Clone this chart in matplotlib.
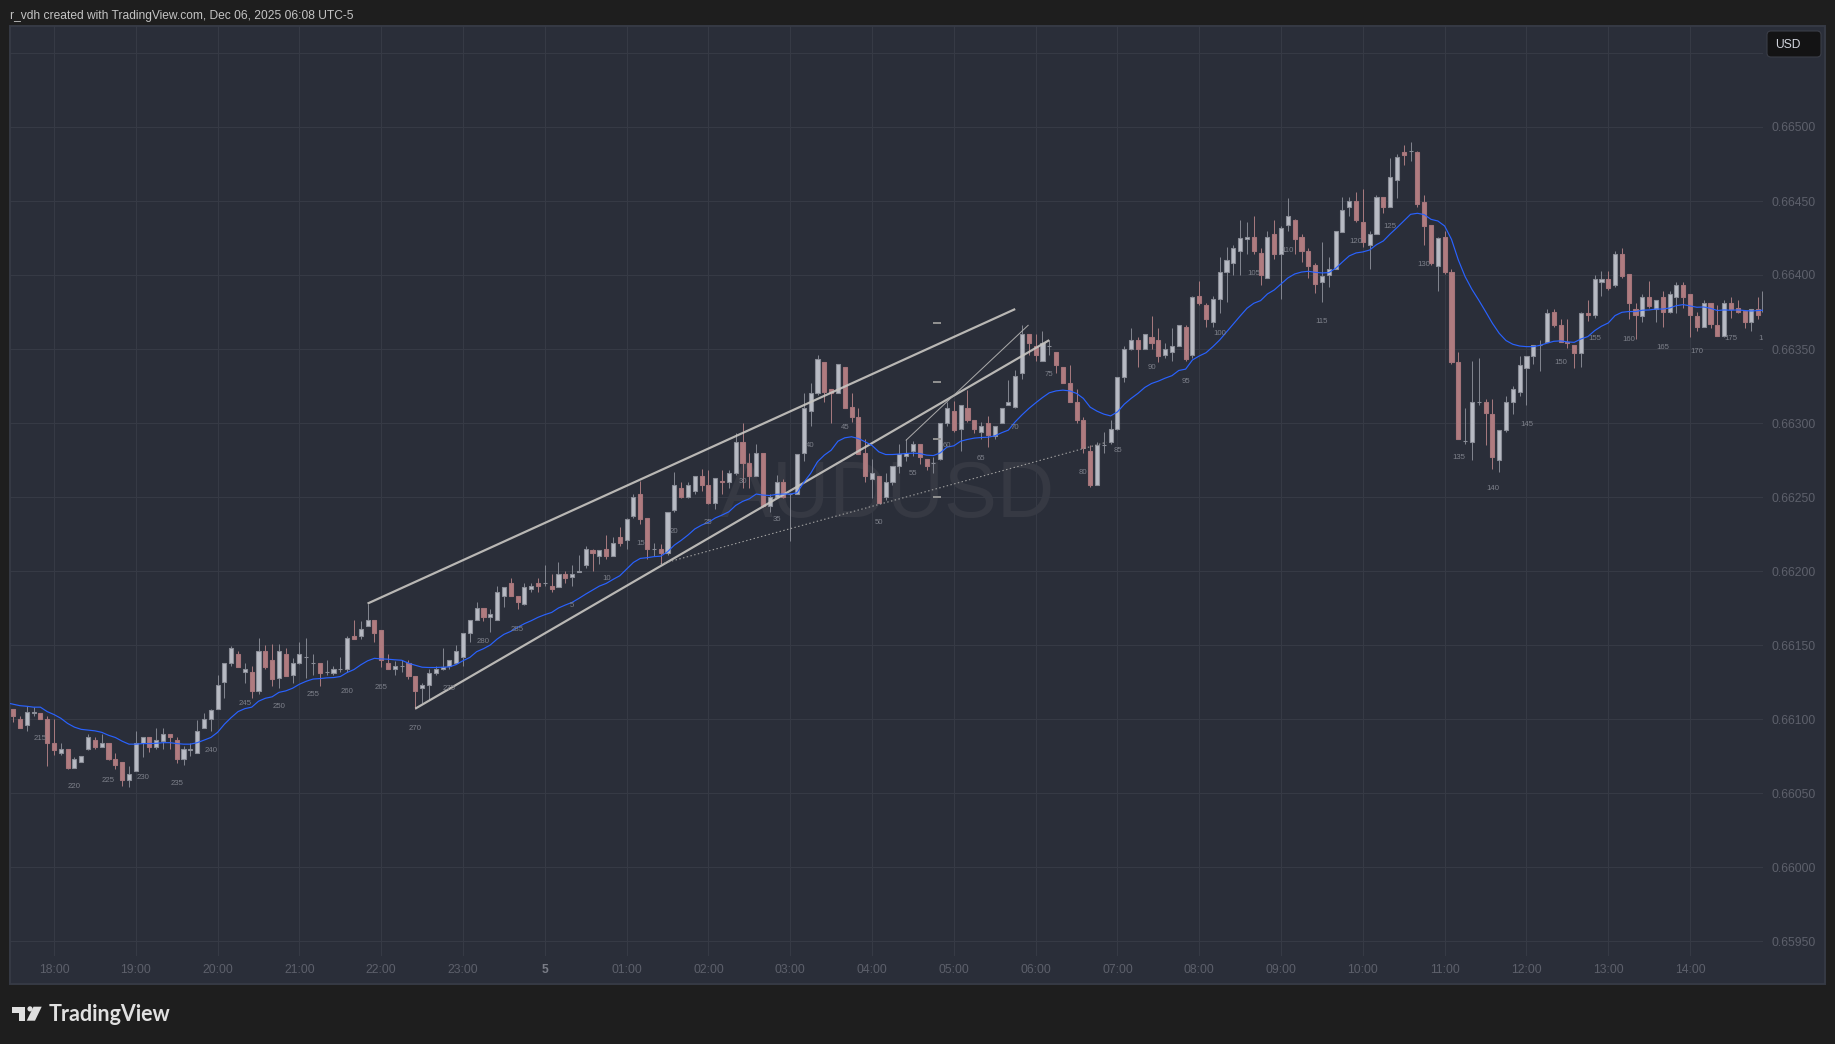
import numpy as np
import matplotlib
matplotlib.use("Agg")
import matplotlib.pyplot as plt
from matplotlib.patches import Rectangle, FancyBboxPatch, Polygon, Circle

plt.rcParams['font.family'] = ['Liberation Sans', 'DejaVu Sans']

# ---------- data (prices in 1e-5 units, five-minute bars, bar 0 = 18:00) ----------
first_bar = -6
opens = [
66107,66100,66096,66104,66104,66100,66084,66077,66080,66067,
66071,66080,66086,66081,66084,66073,66071,66059,66065,66084,
66088,66081,66085,66090,66086,66073,66079,66077,66094,66100,
66107,66125,66138,66144,66132,66132,66119,66146,66140,66128,
66144,66130,66138,66142,66138,66138,66132,66131,66134,66134,
66156,66156,66163,66167,66160,66138,66134,66136,66138,66129,
66121,66123,66131,66134,66136,66138,66142,66158,66167,66175,
66169,66167,66183,66192,66183,66178,66188,66192,66192,66190,
66189,66198,66196,66199,66204,66214,66210,66215,66210,66223,
66221,66237,66252,66236,66215,66215,66212,66241,66256,66250,
66254,66264,66258,66246,66261,66260,66266,66287,66273,66264,
66280,66244,66250,66260,66252,66252,66280,66308,66320,66341,
66323,66320,66338,66311,66304,66280,66262,66264,66250,66260,
66271,66278,66281,66286,66276,66273,66276,66300,66308,66296,
66310,66302,66294,66300,66291,66300,66312,66311,66334,66360,
66352,66342,66352,66348,66338,66327,66314,66302,66281,66258,
66285,66287,66296,66331,66350,66356,66350,66358,66356,66346,
66348,66352,66365,66346,66386,66380,66368,66384,66402,66408,
66416,66424,66426,66415,66398,66428,66414,66434,66437,66426,
66416,66407,66395,66400,66404,66429,66446,66450,66436,66420,
66428,66453,66446,66464,66483,66484,66483,66449,66434,66406,
66426,66402,66341,66288,66287,66314,66314,66306,66275,66295,
66314,66321,66337,66345,66353,66355,66375,66366,66355,66353,
66347,66374,66373,66395,66397,66393,66414,66401,66377,66372,
66385,66377,66385,66375,66385,66393,66387,66372,66365,66381,
66366,66359,66381,66378,66376,66368,66377]
closes = [
66102,66094,66105,66105,66100,66084,66079,66080,66067,66073,
66075,66088,66081,66084,66073,66069,66059,66063,66084,66088,
66081,66086,66090,66088,66073,66080,66080,66092,66100,66106,
66123,66138,66148,66135,66134,66119,66146,66135,66127,66146,
66129,66138,66144,66142,66138,66131,66132,66134,66134,66155,
66154,66161,66167,66158,66140,66134,66136,66136,66129,66119,
66123,66131,66134,66135,66140,66146,66158,66167,66175,66169,
66171,66186,66189,66183,66179,66189,66190,66190,66192,66188,
66198,66195,66198,66200,66215,66212,66214,66210,66219,66219,
66235,66250,66235,66215,66215,66212,66240,66258,66250,66258,
66264,66258,66246,66263,66260,66266,66287,66273,66264,66280,
66244,66250,66260,66250,66252,66279,66310,66320,66343,66321,
66320,66340,66310,66304,66279,66264,66266,66246,66260,66271,
66279,66280,66286,66277,66271,66273,66300,66310,66295,66312,
66302,66296,66298,66292,66298,66310,66314,66332,66360,66354,
66346,66354,66352,66339,66327,66314,66302,66283,66258,66285,
66285,66296,66331,66350,66356,66350,66360,66354,66345,66350,
66352,66366,66343,66385,66381,66370,66384,66402,66410,66418,
66425,66426,66416,66400,66426,66414,66432,66440,66424,66416,
66406,66394,66399,66404,66430,66444,66450,66437,66422,66428,
66453,66446,66466,66480,66481,66484,66448,66433,66408,66425,
66402,66341,66289,66288,66314,66314,66307,66277,66295,66314,
66323,66339,66345,66353,66353,66374,66366,66355,66354,66347,
66374,66373,66397,66397,66391,66414,66399,66381,66373,66385,
66379,66383,66375,66387,66393,66385,66373,66365,66381,66367,
66359,66381,66377,66375,66368,66377,66373]
highs = [
66107,66102,66109,66108,66104,66102,66100,66084,66080,66074,
66075,66090,66088,66090,66084,66077,66071,66068,66092,66088,
66088,66094,66094,66090,66088,66082,66084,66099,66104,66107,
66130,66138,66149,66146,66138,66136,66155,66150,66151,66151,
66148,66141,66152,66155,66144,66138,66140,66136,66142,66156,
66167,66166,66178,66167,66160,66144,66139,66140,66140,66129,
66124,66134,66136,66148,66140,66150,66158,66167,66179,66175,
66174,66190,66189,66195,66183,66192,66192,66195,66204,66198,
66206,66200,66204,66211,66217,66215,66214,66224,66223,66230,
66236,66252,66261,66236,66219,66218,66240,66267,66260,66260,
66264,66269,66268,66263,66268,66268,66293,66300,66280,66286,
66280,66252,66265,66262,66253,66279,66320,66327,66346,66341,
66323,66340,66338,66320,66310,66289,66276,66264,66266,66271,
66286,66289,66288,66286,66276,66277,66300,66314,66315,66312,
66322,66302,66301,66305,66298,66310,66329,66336,66366,66360,
66360,66362,66356,66348,66338,66339,66323,66304,66285,66287,
66294,66302,66331,66352,66364,66358,66360,66372,66364,66354,
66364,66366,66366,66386,66396,66381,66386,66412,66419,66420,
66437,66436,66440,66418,66430,66437,66433,66452,66438,66428,
66418,66408,66422,66412,66430,66453,66453,66456,66458,66430,
66454,66453,66479,66482,66488,66490,66484,66454,66434,66426,
66430,66404,66348,66310,66342,66344,66316,66316,66295,66318,
66325,66345,66345,66353,66356,66377,66377,66370,66370,66353,
66375,66383,66400,66403,66403,66416,66418,66401,66381,66387,
66396,66383,66389,66389,66395,66395,66387,66375,66383,66381,
66380,66383,66385,66383,66376,66377,66385]
lows = [
66098,66094,66092,66102,66100,66068,66076,66076,66066,66067,
66071,66079,66080,66081,66072,66066,66055,66054,66065,66074,
66078,66080,66080,66080,66070,66069,66075,66077,66094,66092,
66107,66114,66136,66135,66124,66114,66117,66134,66122,66121,
66129,66124,66137,66128,66130,66122,66130,66130,66132,66132,
66154,66154,66163,66152,66135,66134,66130,66132,66127,66107,
66111,66113,66130,66133,66134,66137,66136,66152,66167,66166,
66159,66167,66176,66183,66174,66177,66186,66186,66190,66186,
66189,66192,66190,66199,66202,66200,66205,66208,66210,66217,
66215,66236,66232,66208,66210,66205,66211,66240,66249,66249,
66252,66254,66245,66242,66252,66256,66265,66256,66256,66264,
66243,66240,66249,66249,66220,66252,66274,66298,66319,66314,
66300,66320,66310,66301,66279,66260,66249,66246,66248,66258,
66266,66274,66278,66272,66268,66266,66275,66298,66294,66281,
66301,66293,66289,66284,66289,66300,66312,66310,66330,66346,
66342,66342,66346,66334,66327,66314,66300,66280,66257,66258,
66280,66286,66295,66328,66349,66338,66350,66350,66341,66344,
66342,66352,66342,66344,66380,66365,66365,66374,66382,66400,
66400,66414,66414,66393,66398,66411,66384,66430,66414,66409,
66398,66388,66382,66392,66404,66429,66440,66436,66419,66404,
66428,66442,66446,66452,66474,66477,66446,66420,66407,66389,
66401,66340,66289,66286,66275,66312,66285,66269,66267,66294,
66306,66318,66312,66340,66335,66355,66365,66355,66351,66337,
66338,66369,66371,66386,66390,66392,66398,66370,66357,66368,
66378,66368,66365,66374,66374,66378,66358,66362,66365,66364,
66359,66358,66371,66374,66364,66362,66370]

# last partially visible bar at the right edge (only its wick shows)
edge_bar = 250.6
edge_high = 66389
edge_low = 66375

# moving average, starts one bar before the first candle
ma_first = -7
ma_values = [
66111,66110,66109,66108.6,66108,66108,66105,66103,66100.5,66097,66094.5,66093,66092.5,66092,66091,66089,
66087.5,66085,66083,66083,66083.4,66083.4,66083.6,66084,66084,66083.4,66083,66083,66084,66085.7,66087.5,
66091,66096.5,66101,66105,66107,66108,66112,66114,66115,66118,66119,66120.8,66123.5,66125.5,66127,66127.3,
66127.8,66128,66128.7,66131.4,66133.4,66136.6,66139.3,66141,66140.6,66140.4,66140,66139.7,66137.7,66136.3,
66135,66134.8,66134.8,66135,66135.2,66136.8,
66139.4,66141.6,66145.5,66147.5,66150,66154,66157.2,66159.2,66161.9,66164.4,66166.4,66168.7,66170.5,66172,
66175,66177,66178.8,66181.5,66184.4,66187.1,66189.8,66191.6,66194.3,66196.8,66201.3,66205.8,66208.5,66209,
66209.7,66210,66213,66217.5,66220.7,66224.3,66228.4,66231,66232.9,66235.8,66237.8,66240,66244.3,66247,
66248.8,66252,66251.3,66251,66251.8,66252,66252,66252.9,66259.9,66266,66273.8,
66278.3,66281.6,66287.7,66290,66290.7,66289.5,66287.3,66284.8,66280.5,66278.7,66278.7,66279,66279.4,66279.6,
66279.4,66278.3,66278,66279.8,66283.7,66284.6,66287.7,66288.9,66289.8,66290.2,66290.4,66291.3,66293.4,66295.2,
66300.8,66305.5,66309.8,66313.6,66317.2,66320.4,66321.7,66322.2,66321.7,66320,66316.6,66310.7,66308,66306,
66304.8,66307.5,66312.7,66316.6,66320,66324,66326.7,66328.3,66330.3,66332,66335.5,66336.4,
66342.6,66345.3,66347.5,66351.6,66356.1,66361.5,66366.9,66372.3,66377.5,66380.9,66382.7,66387.2,66389.9,66394,
66398,66400.7,66402,66402.5,66401.8,66401.4,66401.6,66404.5,66408.8,66412.9,66414.9,66415.6,66416.9,66420.5,
66423,66427.7,66432,66436.5,66441,66441.7,66440.8,66437.6,66436.5,66433.1,66424.1,66410.2,66398.9,66390.3,
66383,66375.3,66367.4,66360.6,66355.7,66353.2,66352,66351.6,66351.6,66352.5,
66353.9,66355.2,66355.5,66354.8,66354.5,66356.8,66358.4,66362.4,66365.4,66367.6,66372.6,66374.8,66375.3,66375.3,
66376.2,66376.4,66377,66377,66377.7,66379.3,66380,66379.1,66378.2,66378.4,66377.5,66376,66376.4,66376.2,
66376.4,66376,66375.7,66376,66376.3]

# bar-count annotations
count_bars = [-2,3,8,13,18,23,28,33,38,43,48,53,58,63,68,76,81,86,91,96,101,106,111,116,121,126,131,136,141,146,
              151,156,161,166,171,176,181,186,191,196,201,206,211,216,221,226,231,236,241,246,251]
count_text = ['215','220','225','230','235','240','245','250','255','260','265','270','275','280','285','5','10','15','20','25','30','35','40','45','50',
              '55','60','65','70','75','80','85','90','95','100','105','110','115','120','125','130','135','140','145','150','155','160','165','170','175','180']
count_price = [66086.8,66054.4,66058.4,66060.4,66056.4,66078.7,66110.4,66108.4,66116.5,66118.5,66121.3,66093.5,66120.5,66152.2,66160.6,66176.6,
               66194.8,66218.4,66226.5,66232.6,66260.3,66234.7,66284.7,66297,66232.8,66265.7,66284.6,66275.8,66296.7,66332.5,66266.3,66281.2,
               66337.3,66327.8,66360.6,66401.2,66416.5,66368.7,66422.5,66432.7,66407,66276.4,66256,66299.1,66341,66357.3,66356.6,66351.2,66348.5,66357.3,66356.8]

# drawings: (bar, price) pairs
channel_upper = ([46, 141], [66178, 66377])
channel_lower = ([53, 146], [66107, 66356])
thin_trend = ([125, 142.9], [66288.4, 66366])
dotted_trend = ([89, 154.4], [66204.7, 66287])
level_dash_bars = [128.9, 130.1]
level_dash_prices = [66367.5, 66328, 66289, 66250]

price_ticks = [66550,66500,66450,66400,66350,66300,66250,66200,66150,66100,66050,66000,65950]
time_tick_bars = [0,12,24,36,48,60,72,84,96,108,120,132,144,156,168,180,192,204,216,228,240]
time_tick_labels = ['18:00','19:00','20:00','21:00','22:00','23:00','5','01:00','02:00','03:00','04:00','05:00',
                    '06:00','07:00','08:00','09:00','10:00','11:00','12:00','13:00','14:00']

# ---------- colours ----------
FIG_BG = '#1e1e1e'
PANEL = '#2a2e39'
GRID = '#363a45'
UP_FILL, UP_EDGE, UP_WICK = '#b8bbc4', '#8a8d97', '#80838d'
DN_FILL, DN_EDGE, DN_WICK = '#b07c80', '#a4747a', '#a4787d'
TXT_DIM = '#5d606b'
PX = 0.72

W, H = 1835, 1044
fig = plt.figure(figsize=(W/100, H/100), dpi=100, facecolor=FIG_BG)

# layer in pixel coordinates for the frame and furniture
bg = fig.add_axes([0, 0, 1, 1], zorder=0)
bg.set_xlim(0, W); bg.set_ylim(H, 0); bg.axis('off')
bg.add_patch(Rectangle((10, 26), 1815, 958, facecolor=PANEL, edgecolor='#363a45', lw=1.4))
bg.text(10, 15.5, 'r_vdh created with TradingView.com, Dec 06, 2025 06:08 UTC-5', color='#c4c4c4',
        fontsize=8.63, va='center', ha='left')
bg.text(720, 517, 'AUDUSD', color='#363943', fontsize=57.2, va='baseline', ha='left')
# logo
bg.add_patch(Polygon([(12,1006.7),(25.3,1006.7),(25.3,1020.7),(19.3,1020.7),(19.3,1012.7),(12,1012.7)], fc='#e0e0e0', ec='none'))
bg.add_patch(Circle((30, 1008.9), 2.6, fc='#e0e0e0', ec='none'))
bg.add_patch(Polygon([(33.5,1006.7),(41.7,1006.7),(35,1020.7),(26.7,1020.7)], fc='#e0e0e0', ec='none'))
bg.text(48.5, 1014.5, 'TradingView', color='#e0e0e0', fontsize=15.5, family='Lato', weight='bold', va='center', ha='left')

# main price axes, placed at 10..1763 / 26..956 px
L, R, T, B = 10, 1763, 26, 956
ax = fig.add_axes([L/W, 1-B/H, (R-L)/W, (B-T)/H], zorder=1)
ax.patch.set_alpha(0)
for s in ax.spines.values():
    s.set_visible(False)
px_per_bar = 6.817
ax.set_xlim((L-54)/px_per_bar, (R-54)/px_per_bar)
y_of = lambda y: (66500 + (127 - y) / 1.48) / 1e5
ax.set_ylim(y_of(B), y_of(T))

o, h, l, c = [np.array(v, float)/1e5 for v in (opens, highs, lows, closes)]
xs = np.arange(first_bar, first_bar + len(o))
up = c >= o

ax.set_axisbelow(True)
ax.grid(True, color=GRID, lw=PX)
ax.vlines(xs[up], l[up], h[up], color=UP_WICK, lw=PX, zorder=2)
ax.vlines(xs[~up], l[~up], h[~up], color=DN_WICK, lw=PX, zorder=2)
ax.bar(xs[up], (c-o)[up], bottom=o[up], width=0.6, color=UP_FILL, edgecolor=UP_EDGE, lw=PX*1.1, zorder=3)
ax.bar(xs[~up], (c-o)[~up], bottom=o[~up], width=0.6, color=DN_FILL, edgecolor=DN_EDGE, lw=PX*1.1, zorder=3)
ax.vlines([edge_bar], [edge_low/1e5], [edge_high/1e5], color=UP_WICK, lw=PX, zorder=2)

# drawings
line_col = '#c6c4c0'
for pts in (channel_upper, channel_lower):
    ax.plot(pts[0], np.array(pts[1])/1e5, color=line_col, lw=2.2*PX, alpha=0.92, zorder=4, solid_capstyle='butt')
ax.plot(thin_trend[0], np.array(thin_trend[1])/1e5, color='#aaaaaa', lw=PX, zorder=4)
ax.plot(dotted_trend[0], np.array(dotted_trend[1])/1e5, color='#a0a0a0', lw=PX*1.1, ls=(0, (1.3, 2.2)), zorder=4)
ax.hlines(np.array(level_dash_prices)/1e5, level_dash_bars[0], level_dash_bars[1], color='#8f8f8f', lw=2*PX, zorder=4)

# moving average
ax.plot(np.arange(ma_first, ma_first+len(ma_values)), np.array(ma_values)/1e5, color='#2962ff', lw=0.85, zorder=5)

# bar counts
for b, t, p in zip(count_bars, count_text, count_price):
    ax.text(b, p/1e5, t, color='#7d808a', fontsize=5.6, ha='center', va='center', zorder=6, clip_on=True)

# axes ticks
ax.yaxis.tick_right()
ax.set_yticks(np.array(price_ticks)/1e5)
ax.set_yticklabels(['' if v == 66550 else f'{v/1e5:.5f}' for v in price_ticks], color=TXT_DIM, fontsize=8.7)
ax.set_xticks(time_tick_bars)
ax.set_xticklabels(time_tick_labels, color=TXT_DIM, fontsize=8.7)
ax.tick_params(axis='y', length=0, pad=6)
ax.tick_params(axis='x', length=0, pad=6)
for lab in ax.get_xticklabels():
    if lab.get_text() == '5':
        lab.set_fontweight('bold')
        lab.set_color('#7a7d87')

# currency button
top = fig.add_axes([0, 0, 1, 1], zorder=2)
top.set_xlim(0, W); top.set_ylim(H, 0); top.axis('off'); top.patch.set_alpha(0)
top.add_patch(FancyBboxPatch((1769, 33), 50, 22, boxstyle='round,pad=2,rounding_size=4',
                             fc='#131314', ec='#3a3d47', lw=0.8))
top.text(1775, 44.5, 'USD', color='#d1d4dc', fontsize=8.7, va='center', ha='left')

fig.savefig('out.png', dpi=100, facecolor=FIG_BG)
